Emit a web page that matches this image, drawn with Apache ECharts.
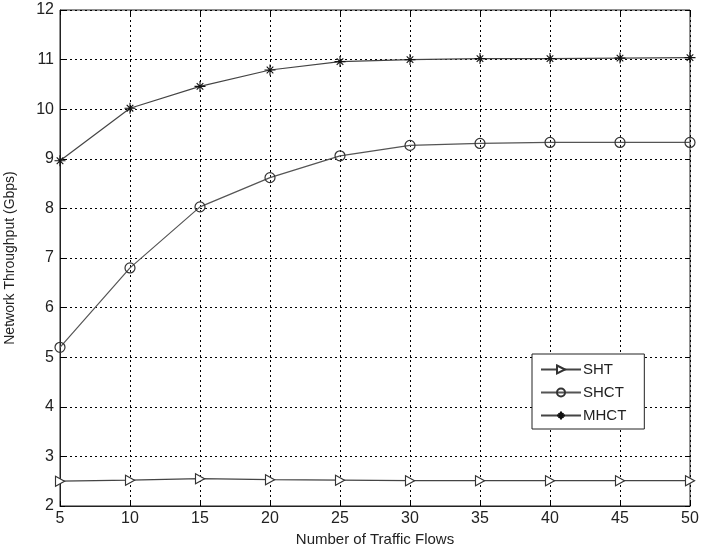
<!DOCTYPE html>
<html><head><meta charset="utf-8">
<script src="https://cdn.jsdelivr.net/npm/echarts@6/dist/echarts.min.js"></script>
<style>html,body{margin:0;padding:0;background:#fff}#c{width:701px;height:552px}</style>
</head><body><div id="c"></div>
<script>
const flows = [5, 10, 15, 20, 25, 30, 35, 40, 45, 50];
const sht  = [2.50, 2.52, 2.55, 2.53, 2.52, 2.51, 2.51, 2.51, 2.51, 2.51];
const shct = [5.20, 6.80, 8.03, 8.62, 9.06, 9.27, 9.31, 9.33, 9.33, 9.33];
const mhct = [8.96, 10.02, 10.46, 10.79, 10.96, 11.00, 11.02, 11.02, 11.03, 11.04];
const yTicks = [2,3,4,5,6,7,8,9,10,11,12];

const pair = (arr) => flows.map((x, i) => [x, arr[i]]);
const font = 'Liberation Sans, Arial, sans-serif';
const gridLine = {show: true, lineStyle: {color: '#000', width: 1, type: [2, 3]}};
const tickIn = {show: true, inside: true, length: 5, lineStyle: {color: '#000'}};
const chart = echarts.init(document.getElementById('c'));
chart.setOption({
  animation: false,
  backgroundColor: '#fff',
  grid: {left: 60, right: 11, top: 10, bottom: 46, show: true, borderColor: '#222', borderWidth: 1,
         containLabel: false, outerBoundsMode: 'none'},
  xAxis: [{
    type: 'value', min: 5, max: 50, interval: 5,
    name: 'Number of Traffic Flows', nameLocation: 'middle', nameGap: 25,
    nameTextStyle: {fontFamily: font, fontSize: 15, color: '#222'},
    axisLine: {show: true, lineStyle: {color: '#222'}},
    axisTick: tickIn,
    axisLabel: {fontFamily: font, fontSize: 16, color: '#222', margin: 5},
    splitLine: gridLine
  }, {
    type: 'value', position: 'top', min: 5, max: 50, interval: 5,
    axisLine: {show: false}, axisTick: tickIn, axisLabel: {show: false}, splitLine: {show: false}
  }],
  yAxis: [{
    type: 'value', min: 2, max: 12, interval: 1,
    name: 'Network Throughput (Gbps)', nameLocation: 'middle', nameGap: 43,
    nameTextStyle: {fontFamily: font, fontSize: 14, color: '#222'},
    axisLine: {show: true, lineStyle: {color: '#222'}},
    axisTick: tickIn,
    axisLabel: {fontFamily: font, fontSize: 16, color: '#222', margin: 6,
      formatter: v => yTicks.includes(v) ? String(v) : ''},
    splitLine: gridLine
  }, {
    type: 'value', position: 'right', min: 2, max: 12, interval: 1,
    axisLine: {show: false}, axisTick: tickIn, axisLabel: {show: false}, splitLine: {show: false}
  }],
  legend: {
    orient: 'vertical', left: 532, top: 354, width: 111,
    backgroundColor: '#fff', borderColor: '#222', borderWidth: 1,
    padding: [8, 18, 6, 8], itemGap: 8, itemWidth: 40, itemHeight: 10,
    textStyle: {fontFamily: font, fontSize: 15, color: '#222', padding: [0, 0, 0, -3]},
    data: ['SHT', 'SHCT', 'MHCT']
  },
  series: [
    {name: 'SHT', type: 'line', data: pair(sht), symbol: 'path://M0,0 L10,5 L0,10 Z', symbolSize: [9, 10],
     lineStyle: {color: '#444', width: 1.2}, itemStyle: {color: '#fff', borderColor: '#333', borderWidth: 1.2}},
    {name: 'SHCT', type: 'line', data: pair(shct), symbol: 'circle', symbolSize: 10,
     lineStyle: {color: '#555', width: 1.2}, itemStyle: {color: 'rgba(0,0,0,0)', borderColor: '#333', borderWidth: 1.2}},
    {name: 'MHCT', type: 'line', data: pair(mhct),
     symbol: 'path://M0,5 L10,5 M5,0 L5,10 M2,2 L8,8 M8,2 L2,8', symbolSize: 11,
     lineStyle: {color: '#444', width: 1.2}, itemStyle: {color: 'rgba(0,0,0,0)', borderColor: '#111', borderWidth: 1.1}}
  ]
});
</script></body></html>
